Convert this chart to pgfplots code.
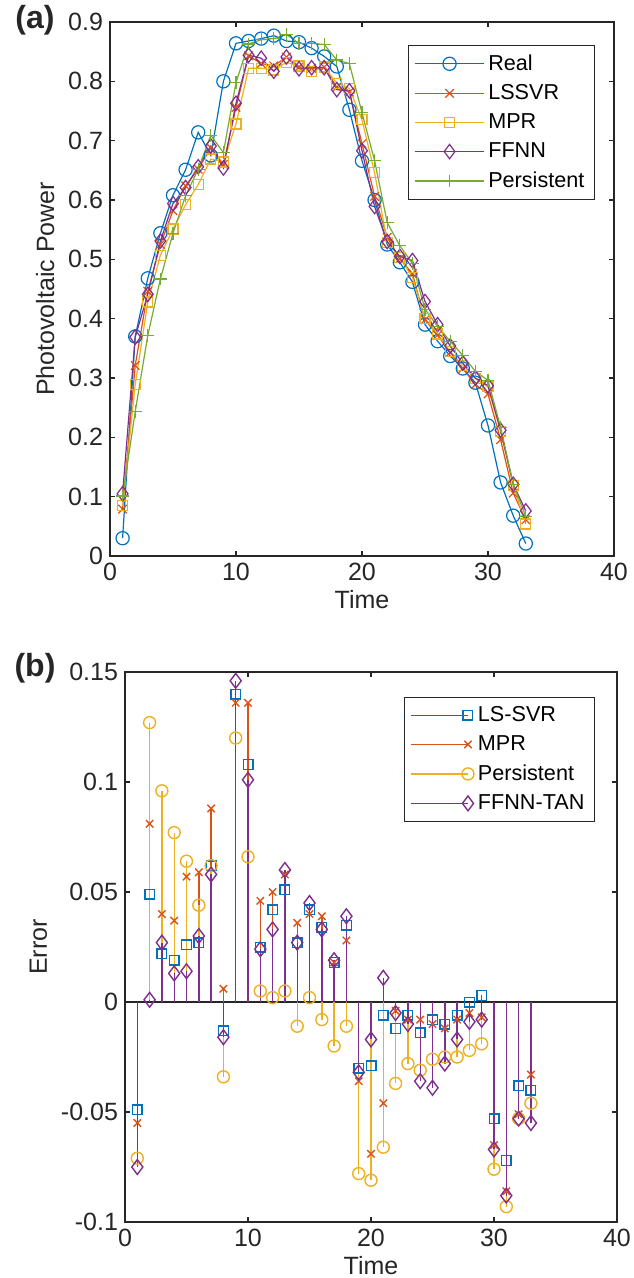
\documentclass[border=0pt]{standalone}
\usepackage{fontspec}
\setmainfont{Liberation Sans}
\usepackage{pgfplots}
\usepackage{pgfplotstable}
\pgfplotsset{compat=1.18}

\definecolor{mblue}{HTML}{0072BD}
\definecolor{morange}{HTML}{D95319}
\definecolor{myellow}{HTML}{EDB120}
\definecolor{mpurple}{HTML}{7E2F8E}
\definecolor{mgreen}{HTML}{77AC30}
\definecolor{axgray}{HTML}{262626}

% panel (a): measured and forecast power
\pgfplotstableread{
t  real  lssvr mpr   ffnn  pers
1  0.030 0.079 0.085 0.105 0.101
2  0.370 0.321 0.289 0.369 0.243
3  0.468 0.446 0.428 0.441 0.372
4  0.544 0.525 0.507 0.531 0.467
5  0.608 0.582 0.551 0.594 0.544
6  0.651 0.624 0.592 0.621 0.607
7  0.714 0.652 0.626 0.656 0.652
8  0.675 0.688 0.669 0.691 0.709
9  0.800 0.660 0.664 0.654 0.680
10 0.864 0.756 0.728 0.763 0.798
11 0.868 0.843 0.822 0.844 0.863
12 0.872 0.830 0.822 0.839 0.870
13 0.877 0.826 0.819 0.817 0.872
14 0.868 0.841 0.832 0.841 0.879
15 0.866 0.824 0.826 0.821 0.864
16 0.856 0.822 0.817 0.823 0.864
17 0.842 0.824 0.824 0.823 0.862
18 0.825 0.790 0.797 0.786 0.836
19 0.752 0.782 0.788 0.784 0.830
20 0.666 0.695 0.735 0.683 0.747
21 0.600 0.606 0.646 0.589 0.666
22 0.525 0.537 0.529 0.530 0.562
23 0.495 0.501 0.503 0.505 0.523
24 0.462 0.476 0.470 0.498 0.493
25 0.390 0.398 0.400 0.429 0.416
26 0.362 0.372 0.374 0.390 0.387
27 0.337 0.343 0.345 0.354 0.362
28 0.316 0.316 0.321 0.325 0.338
29 0.292 0.289 0.299 0.300 0.311
30 0.220 0.273 0.285 0.287 0.296
31 0.124 0.196 0.210 0.212 0.217
32 0.068 0.106 0.119 0.121 0.121
33 0.021 0.061 0.054 0.076 0.067
}\powertab

% panel (b): forecast errors
\pgfplotstableread{
t  ls     mpr    pers   ffnn
1  -0.049 -0.055 -0.071 -0.075
2  0.049  0.081  0.127  0.001
3  0.022  0.040  0.096  0.027
4  0.019  0.037  0.077  0.013
5  0.026  0.057  0.064  0.014
6  0.027  0.059  0.044  0.030
7  0.062  0.088  0.062  0.058
8  -0.013 0.006  -0.034 -0.016
9  0.140  0.136  0.120  0.146
10 0.108  0.136  0.066  0.101
11 0.025  0.046  0.005  0.024
12 0.042  0.050  0.002  0.033
13 0.051  0.058  0.005  0.060
14 0.027  0.036  -0.011 0.027
15 0.042  0.040  0.002  0.045
16 0.034  0.039  -0.008 0.033
17 0.018  0.018  -0.020 0.019
18 0.035  0.028  -0.011 0.039
19 -0.030 -0.036 -0.078 -0.032
20 -0.029 -0.069 -0.081 -0.017
21 -0.006 -0.046 -0.066 0.011
22 -0.012 -0.004 -0.037 -0.005
23 -0.006 -0.008 -0.028 -0.010
24 -0.014 -0.008 -0.031 -0.036
25 -0.008 -0.010 -0.026 -0.039
26 -0.010 -0.012 -0.025 -0.028
27 -0.006 -0.008 -0.025 -0.017
28 0.000  -0.005 -0.022 -0.009
29 0.003  -0.007 -0.019 -0.008
30 -0.053 -0.065 -0.076 -0.067
31 -0.072 -0.086 -0.093 -0.088
32 -0.038 -0.051 -0.053 -0.053
33 -0.040 -0.033 -0.046 -0.055
}\errtab

\pgfplotsset{
  matfig/.style={
    scale only axis, clip=false,
    xmin=0, xmax=40, xtick={0,10,20,30,40},
    axis line style={axgray, line width=0.6pt},
    major tick style={axgray, line width=0.6pt}, major tick length=2.5pt,
    tick label style={font=\fontsize{12.5}{14}\selectfont, text=axgray},
    label style={font=\fontsize{12.5}{14}\selectfont, text=axgray},
    xlabel style={yshift=2pt},
    /pgf/number format/assume math mode=true,
    scaled y ticks=false,
    yticklabel style={/pgf/number format/fixed, /pgf/number format/precision=2},
    legend cell align=left,
    legend style={font=\fontsize{10.8}{12}\selectfont, draw=axgray, line width=0.5pt,
      anchor=north east, row sep=1.6pt, inner xsep=3pt, inner ysep=2.5pt},
  },
}

\begin{document}
\begin{tikzpicture}
\useasboundingbox (0,0) rectangle (316.5pt,-639pt);

\begin{axis}[matfig, at={(55pt,-11pt)}, anchor=north west,
  width=252pt, height=267pt,
  ymin=0, ymax=0.9, ytick={0,0.1,0.2,0.3,0.4,0.5,0.6,0.7,0.8,0.9},
  xlabel={Time}, ylabel={Photovoltaic Power},
  legend style={at={(0.962,0.957)}},
  legend image code/.code={\draw[mark repeat=2,mark phase=2] plot coordinates {(0cm,0cm) (0.6cm,0cm) (1.2cm,0cm)};},
]
  \addplot[mblue, line width=0.6pt, mark=o, mark size=3.3pt] table[x=t, y=real]{\powertab};
  \addplot[morange, line width=0.6pt, mark=x, mark size=3pt] table[x=t, y=lssvr]{\powertab};
  \addplot[myellow, line width=0.6pt, mark=square, mark size=2.5pt] table[x=t, y=mpr]{\powertab};
  \addplot[mpurple, line width=0.6pt, mark=diamond, mark size=3.6pt] table[x=t, y=ffnn]{\powertab};
  \addplot[mgreen, line width=0.6pt, mark=+, mark size=3.2pt] table[x=t, y=pers]{\powertab};
  \legend{Real, LSSVR, MPR, FFNN, Persistent}
\end{axis}

\begin{axis}[matfig, at={(62.5pt,-336pt)}, anchor=north west,
  width=246pt, height=275pt,
  ymin=-0.1, ymax=0.15, ytick={-0.1,-0.05,0,0.05,0.1,0.15},
  xlabel={Time}, ylabel={Error},
  legend style={at={(0.955,0.955)}},
  legend image code/.code={\draw[sharp plot, mark repeat=2, mark phase=2] plot coordinates {(0cm,0cm) (1.0cm,0cm)};},
]
  \addplot[axgray, line width=0.6pt, forget plot] coordinates {(0,0) (40,0)};
  \addplot[ycomb, mblue, line width=0.7pt, mark=square, mark size=2.4pt] table[x=t, y=ls]{\errtab};
  \addplot[ycomb, morange, line width=0.7pt, mark=x, mark size=2.6pt] table[x=t, y=mpr]{\errtab};
  \addplot[ycomb, myellow, line width=0.7pt, mark=o, mark size=3pt] table[x=t, y=pers]{\errtab};
  \addplot[ycomb, mpurple, line width=0.7pt, mark=diamond, mark size=3.7pt] table[x=t, y=ffnn]{\errtab};
  \legend{LS-SVR, MPR, Persistent, FFNN-TAN}
\end{axis}

\node[font=\fontsize{16}{18}\selectfont\bfseries, text=axgray] at (17.5pt,-10pt) {(a)};
\node[font=\fontsize{16}{18}\selectfont\bfseries, text=axgray] at (17.5pt,-334pt) {(b)};
\end{tikzpicture}
\end{document}
